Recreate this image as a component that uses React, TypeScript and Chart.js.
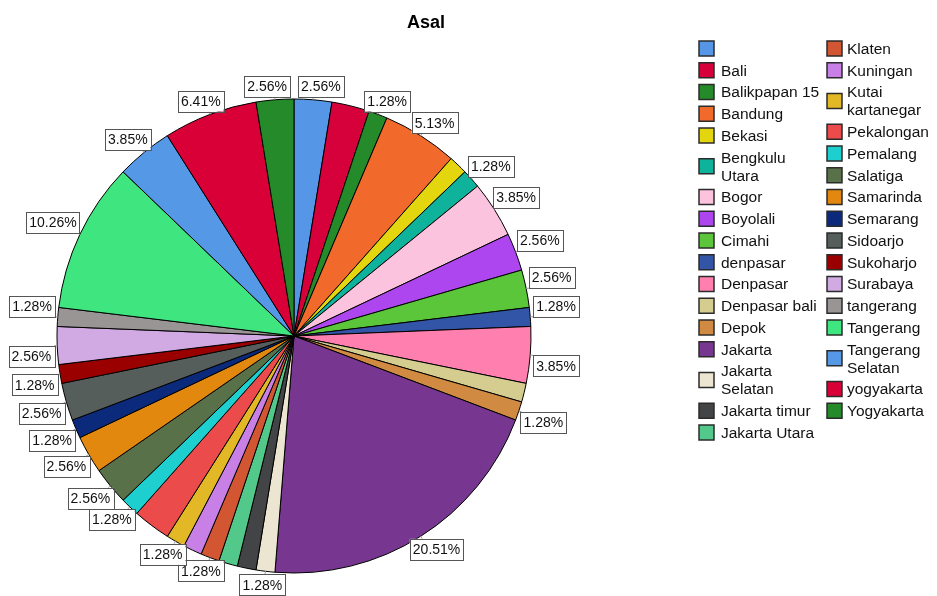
import React, { useEffect, useRef } from "react";
import { Chart, registerables } from "chart.js";

Chart.register(...registerables);

// ---- data -------------------------------------------------------------
const chartTitle = "Asal";

const categories = [
  "", "Bali", "Balikpapan 15", "Bandung", "Bekasi", "Bengkulu Utara", "Bogor",
  "Boyolali", "Cimahi", "denpasar", "Denpasar", "Denpasar bali", "Depok",
  "Jakarta", "Jakarta Selatan", "Jakarta timur", "Jakarta Utara",
  "Klaten", "Kuningan", "Kutai kartanegar", "Pekalongan", "Pemalang",
  "Salatiga", "Samarinda", "Semarang", "Sidoarjo", "Sukoharjo", "Surabaya",
  "tangerang", "Tangerang", "Tangerang Selatan", "yogyakarta", "Yogyakarta",
];

const counts = [
  2, 2, 1, 4, 1, 1, 3, 2, 2, 1, 3, 1, 1, 16, 1, 1, 1,
  1, 1, 1, 2, 1, 2, 2, 1, 2, 1, 2, 1, 8, 3, 5, 2,
];

const sliceColors = [
  "#5597e6", "#d6003a", "#248a2a", "#f2692c", "#e3d60e", "#0fb39b", "#fcc3df",
  "#ad46ef", "#5cc63a", "#3355a8", "#ff7fae", "#d5cd8f", "#d18a42",
  "#773790", "#ece5d1", "#424446", "#52c98a",
  "#d35632", "#c880e6", "#e2b827", "#ec4b4c", "#1ecfcf",
  "#587149", "#e3880e", "#0b2a7b", "#565e5b", "#9b0000", "#d1a9e3",
  "#999595", "#3fe57e", "#5599e6", "#d80036", "#248a2a",
];

// slices whose percentage tag is left off (crowded neighbours)
const unlabeled = [
  "Bali", "Bekasi", "Denpasar bali", "Jakarta timur", "Jakarta Utara",
  "Kuningan", "Pekalongan",
];

const legendColumnSplit = 17;

// ---- drawing ----------------------------------------------------------
const FONT = '"Liberation Sans", Arial, Helvetica, sans-serif';

type Box = { cx: number; cy: number; w: number; h: number; text: string; ex: number; ey: number; ax: number; ay: number };

const overlayPlugin = {
  id: "asalOverlay",
  afterDraw(chart: any) {
    const ctx: CanvasRenderingContext2D = chart.ctx;
    ctx.save();

    // title
    ctx.font = `bold 18px ${FONT}`;
    ctx.fillStyle = "#000";
    ctx.textAlign = "center";
    ctx.textBaseline = "middle";
    ctx.fillText(chartTitle, 426, 23);

    // percentage tags
    const meta = chart.getDatasetMeta(0);
    const total = counts.reduce((a, b) => a + b, 0);
    ctx.font = `14px ${FONT}`;
    const boxes: Box[] = [];
    meta.data.forEach((arc: any, i: number) => {
      if (unlabeled.includes(categories[i])) return;
      const mid = (arc.startAngle + arc.endAngle) / 2;
      const dx = Math.cos(mid);
      const dy = Math.sin(mid);
      const r = arc.outerRadius;
      const text = ((counts[i] / total) * 100).toFixed(2) + "%";
      const w = ctx.measureText(text).width + 6;
      const h = 21;
      const ax = arc.x + (r + 3) * dx;
      const ay = arc.y + (r + 3) * dy;
      boxes.push({
        cx: ax + (dx * w) / 2,
        cy: ay + (Math.sign(dy) * h) / 2,
        w, h, text,
        ex: arc.x + r * dx, ey: arc.y + r * dy, ax, ay,
      });
    });

    // pull apart tags that sit heavily on top of each other
    for (let i = 0; i < boxes.length; i++) {
      for (let j = i + 1; j < boxes.length; j++) {
        const a = boxes[i], b = boxes[j];
        const ox = (a.w + b.w) / 2 - Math.abs(a.cx - b.cx);
        const oy = (a.h + b.h) / 2 - Math.abs(a.cy - b.cy);
        if (ox > 0 && oy > 0 && ox * oy > 50) {
          if (ox < oy) {
            const s = (ox + 8) / 2;
            const dir = a.cx < b.cx ? -1 : 1;
            a.cx += dir * s; b.cx -= dir * s;
          } else {
            const s = (oy + 8) / 2;
            const dir = a.cy < b.cy ? -1 : 1;
            a.cy += dir * s; b.cy -= dir * s;
          }
        }
      }
    }

    boxes.forEach((b) => {
      const left = b.cx - b.w / 2, top = b.cy - b.h / 2;
      // short leader from the rim to the tag
      const nx = Math.min(Math.max(b.ax, left), left + b.w);
      const ny = Math.min(Math.max(b.ay, top), top + b.h);
      ctx.strokeStyle = "#9a9a9a";
      ctx.lineWidth = 1;
      ctx.beginPath();
      ctx.moveTo(b.ex, b.ey);
      ctx.lineTo(b.ax, b.ay);
      ctx.lineTo(nx, ny);
      ctx.stroke();

      ctx.fillStyle = "#fff";
      ctx.fillRect(left, top, b.w, b.h);
      ctx.strokeStyle = "#555";
      ctx.strokeRect(Math.round(left) + 0.5, Math.round(top) + 0.5, Math.round(b.w), Math.round(b.h));
      ctx.fillStyle = "#111";
      ctx.textAlign = "center";
      ctx.textBaseline = "middle";
      ctx.fillText(b.text, b.cx, b.cy + 1);
    });

    // legend, two columns
    ctx.font = `15.5px ${FONT}`;
    ctx.textAlign = "left";
    ctx.textBaseline = "middle";
    const columns = [
      { boxX: 699, textX: 721, from: 0, to: legendColumnSplit },
      { boxX: 827, textX: 847, from: legendColumnSplit, to: categories.length },
    ];
    const pitch = 21.75;
    const lineGap = 18;
    const maxTextWidth = 102;
    columns.forEach((col) => {
      let y = 48.5;
      for (let i = col.from; i < col.to; i++) {
        const name = categories[i];
        let lines = [name];
        if (name && ctx.measureText(name).width > maxTextWidth) {
          const words = name.split(" ");
          let first = words[0];
          let k = 1;
          while (k < words.length && ctx.measureText(first + " " + words[k]).width <= maxTextWidth) {
            first += " " + words[k];
            k++;
          }
          lines = [first, words.slice(k).join(" ")];
        }
        const centre = y + ((lines.length - 1) * lineGap) / 2;
        ctx.fillStyle = sliceColors[i];
        ctx.fillRect(col.boxX, centre - 7.5, 15, 15);
        ctx.strokeStyle = "#2b2b2b";
        ctx.lineWidth = 1.5;
        ctx.strokeRect(col.boxX, centre - 7.5, 15, 15);
        ctx.fillStyle = "#111";
        lines.forEach((ln, li) => ctx.fillText(ln, col.textX, y + li * lineGap + 1));
        y += pitch + (lines.length - 1) * lineGap;
      }
    });

    ctx.restore();
  },
};

export default function App() {
  const canvasRef = useRef<HTMLCanvasElement | null>(null);

  useEffect(() => {
    if (!canvasRef.current) return;
    const chart = new Chart(canvasRef.current, {
      type: "pie",
      data: {
        labels: categories,
        datasets: [
          {
            data: counts,
            backgroundColor: sliceColors,
            borderColor: "#000",
            borderWidth: 1,
          },
        ],
      },
      options: {
        responsive: false,
        animation: false,
        devicePixelRatio: 1,
        events: [],
        layout: { padding: { left: 56.5, right: 405.5, top: 98.5, bottom: 22.5 } },
        plugins: {
          legend: { display: false },
          title: { display: false },
          tooltip: { enabled: false },
        },
      },
      plugins: [overlayPlugin],
    });
    return () => chart.destroy();
  }, []);

  return (
    <div style={{ position: "fixed", left: 0, top: 0, width: 937, height: 596, background: "#fff" }}>
      <canvas ref={canvasRef} width={937} height={596} />
    </div>
  );
}
